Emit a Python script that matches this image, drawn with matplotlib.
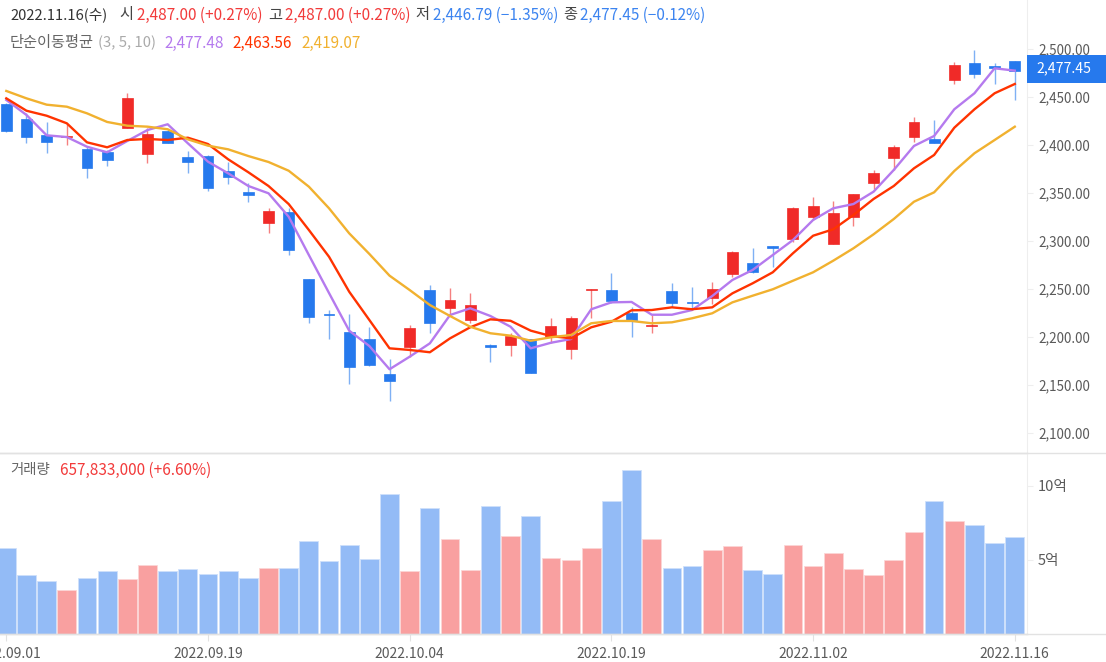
#!/usr/bin/env python3
"""Daily candle chart with moving averages and a volume pane."""
import numpy as np
import matplotlib
matplotlib.use('Agg')
import matplotlib.pyplot as plt

plt.rcParams['font.family'] = ['Noto Sans CJK KR', 'DejaVu Sans']

W, H = 1106, 662

opens = [2442.7, 2426.8, 2410.1, 2408, 2395.5, 2393, 2417.7, 2390.6, 2414.9, 2387.5,
         2388.9, 2373.2, 2351.4, 2319, 2330.2, 2260, 2224, 2205.5, 2197.6, 2161.5,
         2189.9, 2248.6, 2230.2, 2217.4, 2191.5, 2191.4, 2197.6, 2200.3, 2187.5, 2248.5,
         2248.6, 2224.7, 2211, 2248.3, 2236.5, 2240.6, 2265.6, 2276.8, 2294.4, 2302,
         2325.3, 2296.9, 2325.3, 2360.4, 2386.8, 2408.7, 2405.9, 2467.4, 2485.1, 2482.3,
         2487]
highs = [2444, 2433, 2424.3, 2421.9, 2398.3, 2394.8, 2453.9, 2417.4, 2417, 2394,
         2389.6, 2382.6, 2360, 2334, 2334, 2260, 2228, 2224, 2210.7, 2177,
         2212.5, 2254.2, 2250.7, 2245.5, 2192.7, 2203.9, 2197.6, 2219.5, 2221.9, 2250,
         2266.4, 2230.9, 2222.9, 2255.9, 2252.4, 2257.6, 2290, 2292.4, 2295.1, 2335.7,
         2346.2, 2342, 2348.6, 2374, 2399.7, 2429.5, 2426, 2486.8, 2499, 2485,
         2487]
lows = [2414, 2402.4, 2392, 2399.7, 2366, 2378.4, 2417.7, 2381.6, 2402.4, 2371,
        2352.4, 2359.4, 2341, 2308.6, 2285.1, 2215, 2198, 2151, 2170, 2133.6,
        2179.5, 2204.5, 2222.9, 2214.3, 2174.3, 2180.5, 2162.8, 2193.4, 2176.8, 2220,
        2235, 2200.3, 2204.5, 2230.9, 2229.9, 2234.4, 2262.2, 2267, 2273.2, 2298.6,
        2321.9, 2296.9, 2316, 2354, 2374, 2403.1, 2402.4, 2463.2, 2470, 2463.5,
        2446.79]
closes = [2414.9, 2408.7, 2403.4, 2409.4, 2376, 2384, 2449, 2411.1, 2402.4, 2382.6,
          2355.5, 2367, 2347.6, 2331.6, 2290.6, 2221, 2222.5, 2169, 2170.5, 2154.5,
          2209.4, 2214.9, 2238.2, 2233, 2190, 2201.4, 2162.8, 2211.8, 2219.8, 2250,
          2237.2, 2217.7, 2213, 2235.8, 2235, 2249.7, 2288.9, 2268, 2292.8, 2334.4,
          2336.8, 2328.9, 2348.6, 2370.5, 2397.9, 2424.3, 2402.4, 2483, 2474, 2480.5,
          2477.45]

ma3 = [2446.9, 2431.3, 2410.1, 2408.3, 2398.2, 2392.4, 2404.2, 2415.6, 2421.6, 2401.8,
       2382.6, 2370.5, 2357.3, 2349.7, 2325.3, 2285.4, 2245.8, 2206.6, 2190.6, 2166.4,
       2179.5, 2193.4, 2222.9, 2229.9, 2221.9, 2210.7, 2188.2, 2194, 2197.9, 2228.9,
       2236.1, 2236.5, 2223.2, 2223.2, 2228.1, 2242.7, 2259.4, 2269.8, 2285.4, 2301,
       2321.9, 2334.1, 2338.5, 2351.4, 2374, 2399, 2409.4, 2437.2, 2453.9, 2479.9,
       2477.48]
ma5 = [2448.6, 2435.7, 2430.5, 2422.6, 2402.8, 2397.6, 2405.2, 2406.3, 2405.2, 2407.6,
       2401, 2385.1, 2371.6, 2357.3, 2338.5, 2311.5, 2283.6, 2247.2, 2217.7, 2188.2,
       2186.5, 2184.1, 2198.6, 2210.1, 2218.4, 2216.9, 2206.6, 2201, 2198.6, 2210.1,
       2215.9, 2227.8, 2228.1, 2230.9, 2228.9, 2230.9, 2245.5, 2255.9, 2267.4, 2287.2,
       2305.5, 2312.2, 2327.1, 2343.8, 2357.3, 2375.7, 2389.6, 2418, 2437.2, 2453.9,
       2463.56]
ma10 = [2456.3, 2448.6, 2442, 2439.9, 2433, 2424, 2420.1, 2419.1, 2416.4, 2405.9,
        2399.3, 2395.5, 2388.5, 2382.3, 2373.2, 2356.6, 2334.1, 2308, 2286.5, 2263.9,
        2248.9, 2233.3, 2221.9, 2210.7, 2203.9, 2201.4, 2196.1, 2199.7, 2202.1, 2214.3,
        2216.7, 2216.7, 2214.3, 2215.3, 2219.5, 2224.7, 2236.1, 2243, 2249.7, 2258.6,
        2267.4, 2279.5, 2292.4, 2307, 2322.9, 2340.9, 2350.7, 2372.9, 2391.4, 2405.2,
        2419.07]

# volume in 억
volume = [5.83, 3.96, 3.56, 2.95, 3.81, 4.23, 3.74, 4.64, 4.23, 4.41,
          4.08, 4.23, 3.81, 4.48, 4.48, 6.26, 4.91, 5.99, 5.09, 9.48,
          4.23, 8.54, 6.44, 4.30, 8.63, 6.60, 7.95, 5.16, 5.00, 5.83,
          8.96, 11.06, 6.44, 4.48, 4.57, 5.65, 5.92, 4.30, 4.08, 5.99,
          4.57, 5.50, 4.41, 3.96, 5.00, 6.87, 8.96, 7.61, 7.34, 6.17,
          6.58]

date_idx = [0, 10, 20, 30, 40, 50]
date_labels = ['2022.09.01', '2022.09.19', '2022.10.04', '2022.10.19', '2022.11.02', '2022.11.16']
price_ticks = [2100, 2150, 2200, 2250, 2300, 2350, 2400, 2450, 2500]
vol_ticks = [5, 10]
vol_labels = ['5억', '10억']

BLUE = '#2679ED'
RED = '#F02A28'
BLUE_WICK = '#7FB0F4'
RED_WICK = '#F58080'
BLUE_VOL = '#93BBF6'
RED_VOL = '#F9A0A0'
PURPLE = '#B57AEE'
LINE_RED = '#FF3300'
ORANGE = '#F1B12F'
GRID = '#EEEEEE'
TXT = '#5A5A5A'
AXIS_RIGHT = 1027
SPLIT_Y = 453
BASE_Y = 634


def px_axes(top, bottom):
    return fig.add_axes([0, 1 - bottom / H, AXIS_RIGHT / W, (bottom - top) / H])


def label(x, y, s, color=TXT, size=11, **kw):
    fig.text(x / W, 1 - y / H, s, color=color, fontsize=size, va='center', **kw)


fig = plt.figure(figsize=(W / 100, H / 100), dpi=100)
ax = px_axes(0, SPLIT_Y)
ax_vol = px_axes(SPLIT_Y, BASE_Y)

x = np.arange(len(closes))
o, h, l, c = map(np.array, (opens, highs, lows, closes))
up = c >= o

# candles
ax.vlines(x, l, h, colors=np.where(up, RED_WICK, BLUE_WICK), linewidth=1.0, zorder=2)
ax.bar(x, np.abs(c - o), bottom=np.minimum(o, c), width=0.54,
       color=np.where(up, RED, BLUE), edgecolor=np.where(up, RED, BLUE), linewidth=0.5, zorder=3)

# moving averages
ax.plot(x, ma3, color=PURPLE, linewidth=1.7, zorder=4, solid_joinstyle='round')
ax.plot(x, ma5, color=LINE_RED, linewidth=1.7, zorder=5, solid_joinstyle='round')
ax.plot(x, ma10, color=ORANGE, linewidth=1.7, zorder=6, solid_joinstyle='round')

x_lo = -6.3 / 20.17
x_hi = (AXIS_RIGHT - 6.3) / 20.17
ax.set_xlim(x_lo, x_hi)
ax.set_ylim(2500 - (SPLIT_Y - 49) / 0.96, 2500 + 49 / 0.96)
ax.set_xticks([])
ax.yaxis.tick_right()
ax.set_yticks(price_ticks)
ax.set_yticklabels([f'{v:,.2f}' for v in price_ticks], color=TXT, fontsize=9.7)
ax.tick_params(axis='y', length=4, width=0.8, color=GRID, pad=4)

# volume
ax_vol.bar(x, volume, width=0.93, color=np.where(up, RED_VOL, BLUE_VOL),
           edgecolor=np.where(up, '#FCD6D6', '#CFE0FB'), linewidth=0.6)
ax_vol.set_xlim(x_lo, x_hi)
ax_vol.set_ylim(0, (BASE_Y - SPLIT_Y) / 14.8)
ax_vol.yaxis.tick_right()
ax_vol.set_yticks(vol_ticks)
ax_vol.set_yticklabels(vol_labels, color=TXT, fontsize=10.5)
ax_vol.tick_params(axis='y', length=4, width=0.8, color=GRID, pad=4)
ax_vol.set_xticks(date_idx)
ax_vol.set_xticklabels(date_labels, color=TXT, fontsize=10)
ax_vol.tick_params(axis='x', length=5, width=0.8, color='#E2E2E2', pad=4)

for a in (ax, ax_vol):
    for side in ('top', 'left'):
        a.spines[side].set_visible(False)
    a.spines['right'].set_color(GRID)
    a.spines['bottom'].set_color('#DDDDDD')
    a.spines['right'].set_linewidth(0.8)
    a.spines['bottom'].set_linewidth(1.0)
    a.patch.set_alpha(0)

# baseline and pane divider run to the right edge
for yy in (SPLIT_Y, BASE_Y):
    fig.add_artist(plt.Line2D([0, 1], [1 - yy / H, 1 - yy / H], color='#E2E2E2', linewidth=1.0))

# last price tag
fig.patches.append(plt.Rectangle((AXIS_RIGHT / W, 1 - 83 / H), (W - AXIS_RIGHT) / W, 28 / H,
                                 transform=fig.transFigure, facecolor=BLUE, edgecolor='none', figure=fig))
label(1036, 68.5, '2,477.45', color='white', size=10.2)

# header lines
HDR_RED = '#F23B3B'
HDR_BLUE = '#3C84F0'
label(10, 15, '2022.11.16(수)', color='#333333', size=10.6)
label(119, 15, '시', color='#444444')
label(137, 15, '2,487.00 (+0.27%)', color=HDR_RED)
label(268, 15, '고', color='#444444')
label(285, 15, '2,487.00 (+0.27%)', color=HDR_RED)
label(415, 15, '저', color='#444444')
label(433, 15, '2,446.79 (−1.35%)', color=HDR_BLUE)
label(563, 15, '종', color='#444444')
label(580, 15, '2,477.45 (−0.12%)', color=HDR_BLUE)

label(10, 43, '단순이동평균', color='#666666')
label(98, 43, '(3, 5, 10)', color='#AAAAAA', size=10.7)
label(164, 43, '2,477.48', color=PURPLE)
label(232, 43, '2,463.56', color=LINE_RED)
label(301, 43, '2,419.07', color=ORANGE)

label(10, 470, '거래량', color='#666666', size=10.4)
label(60, 470, '657,833,000 (+6.60%)', color=HDR_RED)

fig.savefig('out.png', dpi=100)
